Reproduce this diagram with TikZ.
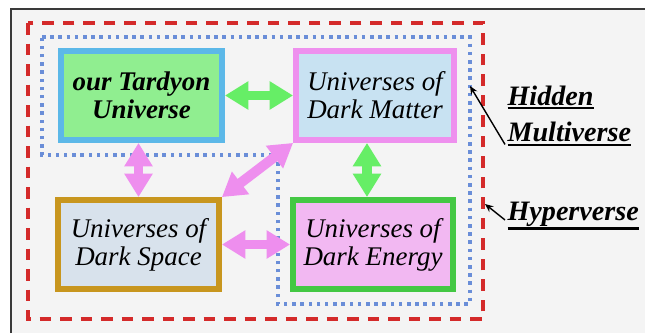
\documentclass[tikz,border=0pt]{standalone}
\usepackage{fontspec}
\setmainfont{Liberation Serif}
\usetikzlibrary{arrows.meta}
\definecolor{bgpanel}{HTML}{F4F4F4}
\definecolor{framegray}{HTML}{3A3A3A}
\definecolor{dashred}{HTML}{D42A2A}
\definecolor{dotblue}{HTML}{6A8ED8}
\definecolor{tardfill}{HTML}{90EE90}
\definecolor{tardline}{HTML}{5CB8E8}
\definecolor{dmfill}{HTML}{C8E2F2}
\definecolor{dmline}{HTML}{EE90EE}
\definecolor{dsfill}{HTML}{D8E2EC}
\definecolor{dsline}{HTML}{C8961E}
\definecolor{defill}{HTML}{F2B8F2}
\definecolor{deline}{HTML}{44C844}
\definecolor{arrgreen}{HTML}{66EE66}
\definecolor{arrpink}{HTML}{EE8EEE}
\newcommand{\ulword}[1]{\vtop{\hbox{#1}\kern1.2pt\hrule height 1.8pt}}

\begin{document}
\begin{tikzpicture}[x=0.03cm,y=-0.03cm,
  unibox/.style={draw,line width=5pt,minimum height=2.67cm,align=center,
    inner sep=1pt,font=\fontsize{23}{24}\selectfont\itshape},
  linkarrow/.style={line width=8.5pt,
    {Triangle[length=20pt,width=23pt]}-{Triangle[length=20pt,width=23pt]}},
  verselbl/.style={font=\fontsize{24}{31.5}\selectfont\bfseries\itshape,
    align=left,inner sep=2pt},
  pointer/.style={-{Stealth[length=7pt,width=6pt]},line width=1.2pt}]
\useasboundingbox (0,0) rectangle (645,333);
\fill[white] (0,0) rectangle (645,333);
\fill[bgpanel] (11,9) rectangle (645,333);
\draw[framegray,line width=1.6pt] (11,333) -- (11,9) -- (645,9);
% hyperverse and hidden multiverse borders
\draw[dashred,line width=2.8pt,dash pattern=on 10pt off 7.5pt] (28,23) rectangle (483,319);
\draw[dotblue,line width=3pt,dash pattern=on 3pt off 4pt]
  (42,37) -- (470,37) -- (470,304) -- (278,304) -- (278,155) -- (42,155) -- cycle;
% the four kinds of universes
\node[unibox,fill=tardfill,draw=tardline,minimum width=4.83cm,font=\fontsize{23}{24}\selectfont\bfseries\itshape]
  (tardyon) at (141.5,95.5) {our Tardyon\\Universe};
\node[unibox,fill=dmfill,draw=dmline,minimum width=4.74cm] (darkmatter) at (375,95.5)
  {Universes of\\Dark Matter};
\node[unibox,fill=dsfill,draw=dsline,minimum width=4.83cm] (darkspace) at (138.5,244.5)
  {Universes of\\Dark Space};
\node[unibox,fill=defill,draw=deline,minimum width=4.8cm] (darkenergy) at (373,244.5)
  {Universes of\\Dark Energy};
% links
\draw[linkarrow,arrgreen] (tardyon.east) -- (darkmatter.west);
\draw[linkarrow,arrgreen] ([xshift=-0.24cm]darkmatter.south) -- ([xshift=-0.18cm]darkenergy.north);
\draw[linkarrow,arrpink] ([xshift=-0.09cm]tardyon.south) -- (darkspace.north);
\draw[linkarrow,arrpink] (darkspace.north east) -- (darkmatter.south west);
\draw[linkarrow,arrpink] (darkspace.east) -- (darkenergy.west);
% labels
\node[verselbl,anchor=north west] (hiddenlbl) at (505,83) {\ulword{Hidden}\\\ulword{Multiverse}};
\node[verselbl,anchor=base west] (hyperlbl) at (505,220) {\ulword{Hyperverse}};
\coordinate (hiddentip) at (470,86);
\coordinate (hypertip) at (485,204);
\draw[pointer] ([yshift=0.12cm]hiddenlbl.south west) -- (hiddentip);
\draw[pointer] (hyperlbl.base west) -- (hypertip);
\end{tikzpicture}
\end{document}
